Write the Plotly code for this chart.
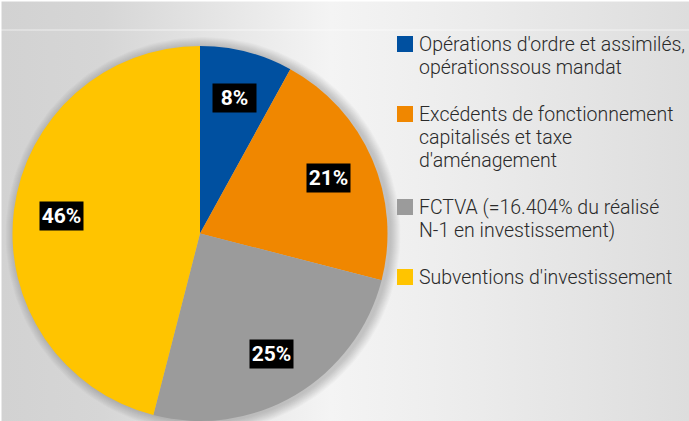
import numpy as np
import plotly.graph_objects as go

# Data
categories = ["Opérations d'ordre et assimilés, opérationssous mandat",
              "Excédents de fonctionnement capitalisés et taxe d'aménagement",
              "FCTVA (=16.404% du réalisé N-1 en investissement)",
              "Subventions d'investissement"]
legend_lines = [["Opérations d'ordre et assimilés,", "opérationssous mandat"],
                ["Excédents de fonctionnement", "capitalisés et taxe", "d'aménagement"],
                ["FCTVA (=16.404% du réalisé", "N-1 en investissement)"],
                ["Subventions d'investissement"]]
values = [8, 21, 25, 46]
colors = ["#0050A0", "#F08700", "#9B9B9B", "#FFC400"]

W, H = 689, 421
cx, cy, R = 200, 233.5, 187.5

fig = go.Figure()

# background gradient
fig.add_trace(go.Scatter(
    x=[0, W, W, 0, 0], y=[0, 0, H, H, 0], mode='lines', fill='toself',
    line=dict(width=0),
    fillgradient=dict(type='horizontal',
                      colorscale=[[0, '#d2d2d2'], [0.15, '#d6d6d6'], [0.48, '#f4f4f4'],
                                  [0.7, '#ebebeb'], [1, '#dddddd']]),
    hoverinfo='skip', showlegend=False))

# soft shadow behind the pie
t = np.linspace(0, 2 * np.pi, 200)
for k in range(1, 11):
    fig.add_trace(go.Scatter(
        x=cx + 3 + (R + k) * np.sin(t), y=cy + 1 + (R + k) * np.cos(t),
        mode='lines', fill='toself', line=dict(width=0),
        fillcolor='rgba(0,0,0,0.02)', hoverinfo='skip', showlegend=False))

fig.add_trace(go.Pie(
    labels=categories, values=values, sort=False, direction='clockwise', rotation=0,
    marker=dict(colors=colors, line=dict(width=0)), textinfo='none',
    domain=dict(x=[(cx - R) / W, (cx + R) / W], y=[(H - cy - R) / H, (H - cy + R) / H]),
    hoverinfo='label+percent', showlegend=False))

# percentage labels in black boxes
total = sum(values)
cum = 0
for v in values:
    mid = (cum + v / 2) / total * 2 * np.pi
    cum += v
    rl = 0.745 * R
    fig.add_annotation(x=cx + rl * np.sin(mid), y=cy - rl * np.cos(mid),
                       xref='x', yref='y', showarrow=False,
                       text='<b>%d%%</b>' % round(v / total * 100),
                       font=dict(family='Roboto', size=21, color='white'),
                       bgcolor='black', width=41, height=26, borderpad=1)

# legend
y = 44
lh, gap = 23, 24
for lines, c in zip(legend_lines, colors):
    fig.add_shape(type='rect', xref='x', yref='y', x0=397, x1=413, y0=y - 8, y1=y + 8,
                  fillcolor=c, line=dict(width=0))
    for i, s in enumerate(lines):
        fig.add_annotation(x=417, y=y + i * lh, xref='x', yref='y', showarrow=False,
                           xanchor='left', yanchor='middle', align='left', text=s,
                           font=dict(family='Roboto', size=19.5, color='#2a2a2a', weight=300))
    y += len(lines) * lh + gap

# frame lines
fig.add_shape(type='line', xref='x', yref='y', x0=0, x1=W, y0=30, y1=30,
              line=dict(color='rgba(255,255,255,0.6)', width=1))
fig.add_shape(type='line', xref='x', yref='y', x0=0, x1=W, y0=0.5, y1=0.5,
              line=dict(color='white', width=2))
fig.add_shape(type='line', xref='x', yref='y', x0=0.5, x1=0.5, y0=0, y1=H,
              line=dict(color='white', width=2))

fig.update_xaxes(visible=False, range=[0, W], fixedrange=True)
fig.update_yaxes(visible=False, range=[H, 0], fixedrange=True)
fig.update_layout(width=W, height=H, margin=dict(l=0, r=0, t=0, b=0),
                  paper_bgcolor='#e4e4e4', plot_bgcolor='rgba(0,0,0,0)',
                  showlegend=False)

fig.write_html("out.html", config={'displayModeBar': False},
               post_script="document.body.style.margin='0';")
